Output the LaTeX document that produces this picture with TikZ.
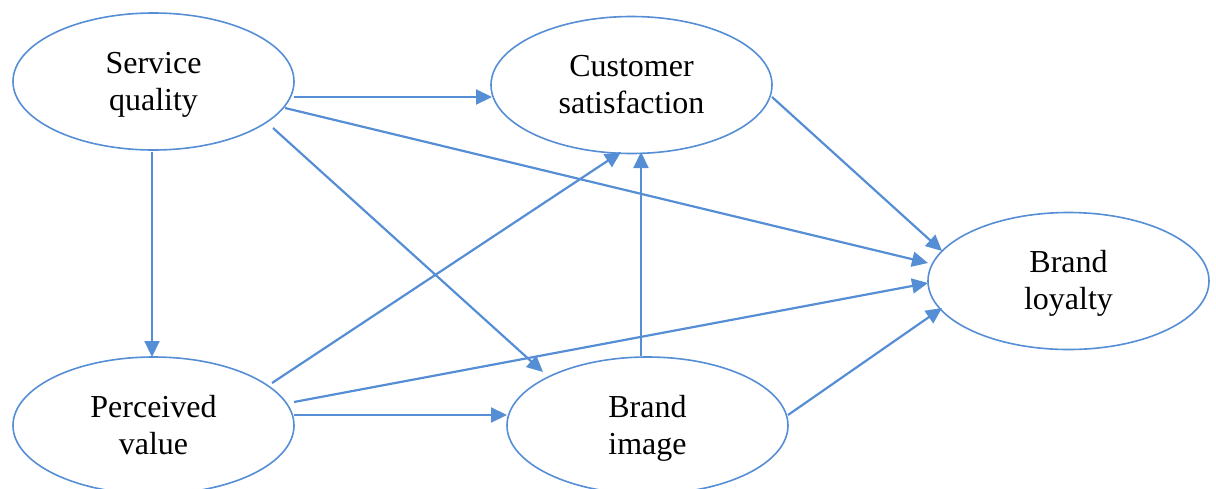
\documentclass[tikz,border=0pt]{standalone}
\usepackage{fontspec}
\setmainfont{Liberation Serif}
\usetikzlibrary{shapes.geometric,arrows.meta}
\definecolor{lineblue}{RGB}{85,142,213}
\newcommand{\twolines}[2]{\raisebox{-1.5pt}[\height][\depth]{\begin{tabular}{@{}c@{}}#1\\#2\end{tabular}}}
\begin{document}
\begin{tikzpicture}[x=0.5pt,y=-0.5pt,
  latent/.style={ellipse,draw=lineblue,line width=0.8pt,minimum width=140.5pt,minimum height=68.5pt,inner sep=0pt,font=\fontsize{16pt}{18.5pt}\selectfont},
  arr/.style={draw=lineblue,line width=1.1pt,-{Triangle[length=8pt,width=7.5pt]}}]
\useasboundingbox (0,0) rectangle (1216,488);
\node[latent] (sq) at (153.5,81.5) {\twolines{Service}{quality}};
\node[latent] (cs) at (631.5,85) {\twolines{Customer}{satisfaction}};
\node[latent] (bl) at (1068.5,281) {\twolines{Brand}{loyalty}};
\node[latent] (pv) at (153.5,425.5) {\twolines{Perceived}{value}};
\node[latent] (bi) at (647.5,425.5) {\twolines{Brand}{image}};
\draw[arr] ([shift={(140.5,15.5)}]sq.center) -- ([shift={(-139.5,12)}]cs.center);
\draw[arr] ([shift={(131.5,26.5)}]sq.center) -- ([shift={(-140.5,-18)}]bl.center);
\draw[arr] ([shift={(119.5,46.5)}]sq.center) -- ([shift={(-104.5,-53.5)}]bi.center);
\draw[arr] ([shift={(-1.5,70)}]sq.center) -- ([shift={(-1.5,-68.5)}]pv.center);
\draw[arr] ([shift={(118.5,-42.5)}]pv.center) -- ([shift={(-10.5,67)}]cs.center);
\draw[arr] ([shift={(140.5,-23.5)}]pv.center) -- ([shift={(-140.5,2)}]bl.center);
\draw[arr] ([shift={(140.5,-10.5)}]pv.center) -- ([shift={(-140.5,-10.5)}]bi.center);
\draw[arr] ([shift={(-6.5,-69.5)}]bi.center) -- ([shift={(9.5,67)}]cs.center);
\draw[arr] ([shift={(140.5,-10.5)}]bi.center) -- ([shift={(-126.5,27)}]bl.center);
\draw[arr] ([shift={(140.5,12)}]cs.center) -- ([shift={(-126.5,-30)}]bl.center);
\end{tikzpicture}
\end{document}
